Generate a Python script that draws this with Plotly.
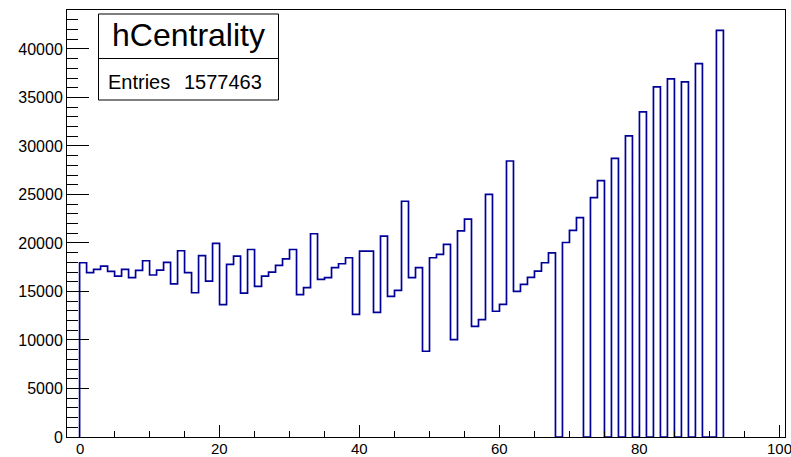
import plotly.graph_objects as go

# hCentrality: entries per centrality bin (bin width 1, bins start at 0)
bin_counts = [
    17960, 16940, 17280, 17610, 17070, 16590, 17280, 16420, 17170, 18170,
    16700, 17200, 18000, 15780, 19200, 16940, 14870, 18700, 16070, 19950,
    13650, 17790, 18640, 14840, 19330, 15530, 16590, 17000, 17690, 18370,
    19330, 14670, 15390, 20950, 16250, 16420, 17450, 17860, 18480, 12650,
    19160, 19160, 12850, 20700, 14500, 15120, 24300, 16420, 17450, 8840,
    18480, 18820, 19850, 10040, 21250, 22450, 11410, 12100, 25020, 12960,
    13680, 28450, 15010, 15730, 16450, 17100, 17960, 18990, 0, 20050,
    21290, 22620, 0, 24680, 26430, 0, 28720, 0, 31050, 0,
    33520, 0, 36090, 0, 36920, 0, 36610, 0, 38490, 0,
    0, 41920,
]
bin_width = 1
hist_name = "hCentrality"
n_entries = 1577463

x_tick_values = [0, 20, 40, 60, 80, 100]
y_tick_step = 5000

# step outline of the histogram (ROOT style, no inner edges)
edges = [i * bin_width for i in range(len(bin_counts) + 1)]
xs = [edges[0]] + edges[:-1] + [edges[-1]]
ys = [0] + bin_counts + [0]

ymax = max(bin_counts) * 1.05

W, H = 791, 457
ML, MR, MT, MB = 67, 6, 10, 20
PW, PH = W - ML - MR, H - MT - MB


def px(x):
    return (x - ML) / PW


def py(y):
    return (H - MB - y) / PH


fig = go.Figure()
fig.add_trace(go.Scatter(
    x=xs, y=ys, mode="lines", line_shape="hv",
    line=dict(color="#000099", width=1.7),
    hoverinfo="skip", showlegend=False,
))

font_family = "Liberation Sans, Arial, sans-serif"

fig.update_layout(
    width=W, height=H,
    margin=dict(l=ML, r=MR, t=MT, b=MB, pad=0),
    paper_bgcolor="white", plot_bgcolor="white",
    showlegend=False,
    xaxis=dict(
        range=[-1.8, 100.8], showgrid=False, zeroline=False, automargin=False,
        showline=True, linecolor="black", linewidth=1, mirror=True,
        ticks="inside", ticklen=12, tickwidth=1, tickcolor="black",
        tickmode="array", tickvals=x_tick_values, showticklabels=False,
        minor=dict(ticks="inside", ticklen=6, tickcolor="black", dtick=5, tick0=0),
        layer="above traces",
    ),
    yaxis=dict(
        range=[0, ymax], showgrid=False, zeroline=False, automargin=False,
        showline=True, linecolor="black", linewidth=1, mirror=True,
        ticks="inside", ticklen=22, tickwidth=1, tickcolor="black",
        tick0=0, dtick=y_tick_step, tickformat="d",
        tickfont=dict(family=font_family, size=16, color="black"),
        minor=dict(ticks="inside", ticklen=11, tickcolor="black", dtick=1000, tick0=0),
        layer="above traces",
    ),
)

# x tick labels, set just under the frame so they stay inside the page
for v in x_tick_values:
    fig.add_annotation(xref="x", yref="paper", x=v, y=py(439.5),
                       text=str(v), showarrow=False, xanchor="center", yanchor="top",
                       borderpad=0,
                       font=dict(family=font_family, size=15, color="black"))

# statistics box
bx0, bx1 = 98.5, 278.5
by0, bmid, by1 = 14, 58.5, 100
fig.add_shape(type="rect", xref="paper", yref="paper",
              x0=px(bx0), x1=px(bx1), y0=py(by1), y1=py(by0),
              line=dict(color="black", width=1), fillcolor="white", layer="above")
fig.add_shape(type="line", xref="paper", yref="paper",
              x0=px(bx0), x1=px(bx1), y0=py(bmid), y1=py(bmid),
              line=dict(color="black", width=1), layer="above")

fig.add_annotation(xref="paper", yref="paper", x=px((bx0 + bx1) / 2), y=py(35),
                   text=hist_name, showarrow=False, xanchor="center", yanchor="middle",
                   font=dict(family=font_family, size=32, color="black"))
fig.add_annotation(xref="paper", yref="paper", x=px(106), y=py(82),
                   text="Entries", showarrow=False, xanchor="left", yanchor="middle",
                   font=dict(family=font_family, size=20, color="black"))
fig.add_annotation(xref="paper", yref="paper", x=px(264), y=py(82),
                   text=str(n_entries), showarrow=False, xanchor="right", yanchor="middle",
                   font=dict(family=font_family, size=20, color="black"))

fig.write_html("out.html")
